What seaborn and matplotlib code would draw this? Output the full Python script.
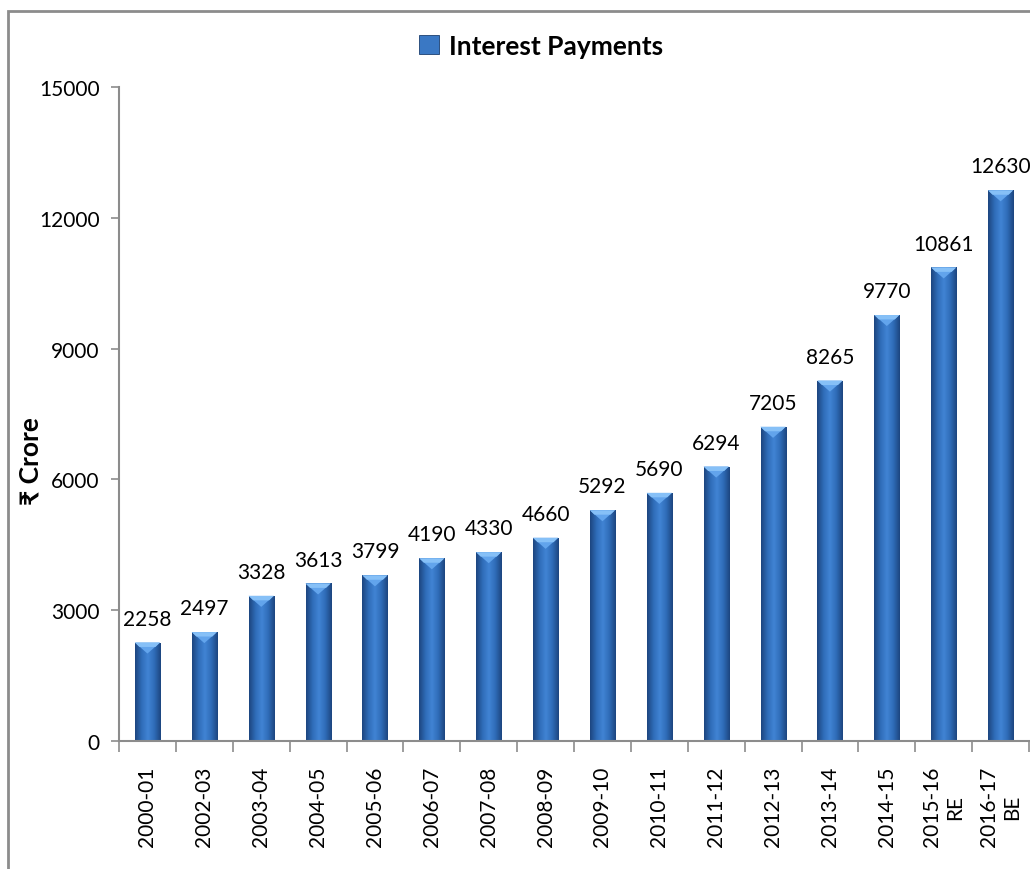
import numpy as np
import pandas as pd
import matplotlib
matplotlib.use("Agg")
import matplotlib.pyplot as plt
import seaborn as sns
from matplotlib.colors import LinearSegmentedColormap
from matplotlib.patches import Polygon, Rectangle

# Interest payments by year (₹ crore)
years = ["2000-01", "2002-03", "2003-04", "2004-05", "2005-06", "2006-07",
         "2007-08", "2008-09", "2009-10", "2010-11", "2011-12", "2012-13",
         "2013-14", "2014-15", "2015-16\nRE", "2016-17\nBE"]
payments = [2258, 2497, 3328, 3613, 3799, 4190, 4330, 4660, 5292, 5690,
            6294, 7205, 8265, 9770, 10861, 12630]
series_name = "Interest Payments"
y_ticks = [0, 3000, 6000, 9000, 12000, 15000]

sns.set_theme(style="white")
plt.rcParams["font.family"] = ["Lato", "DejaVu Sans"]
plt.rcParams["text.color"] = "black"
plt.rcParams["xtick.color"] = "black"
plt.rcParams["ytick.color"] = "black"
plt.rcParams["axes.labelcolor"] = "black"

df = pd.DataFrame({"year": years, "value": payments})

fig = plt.figure(figsize=(10.3, 8.7), dpi=100)
ax = fig.add_axes([119 / 1030, 1 - 742 / 870, 910 / 1030, 654 / 870])

sns.barplot(data=df, x="year", y="value", color="#3a78c4", width=0.44,
            ax=ax, label=series_name, saturation=1)

ax.set_ylim(0, 15000)
ax.set_xlim(-0.5, len(years) - 0.5)

# shaded body + top bevel on each bar
grad = LinearSegmentedColormap.from_list(
    "barshade", ["#1d4680", "#2f6cb8", "#4184d4", "#2f6cb8", "#1d4680"])
xs = np.linspace(0, 1, 64)
gradient = np.vstack([xs, xs])
px_to_data = 15000 / 654
for patch in list(ax.patches):
    x0, w = patch.get_x(), patch.get_width()
    h = patch.get_height()
    im = ax.imshow(gradient, cmap=grad, aspect="auto",
                   extent=(x0, x0 + w, 0, h), zorder=2.5)
    im.set_clip_path(patch)
    d = 11 * px_to_data
    ax.add_patch(Polygon([(x0, h), (x0 + w, h), (x0 + w / 2, h - d)],
                         closed=True, facecolor="#62a4ec", edgecolor="none",
                         zorder=2.6))
    ax.add_patch(Polygon([(x0, h), (x0 + w, h), (x0 + w * 0.82, h - d * 0.4),
                          (x0 + w * 0.18, h - d * 0.4)],
                         closed=True, facecolor="#86c0f7", edgecolor="none",
                         zorder=2.7))
    patch.set_edgecolor("#1b3f70")
    patch.set_linewidth(0.6)

ax.set_xlim(-0.5, len(years) - 0.5)
ax.set_ylim(0, 15000)

ax.bar_label(ax.containers[0], labels=[str(v) for v in payments],
             padding=10, fontsize=15, color="black")

# axes styling
for s in ["top", "right"]:
    ax.spines[s].set_visible(False)
for s in ["left", "bottom"]:
    ax.spines[s].set_color("#8c8c8c")
    ax.spines[s].set_linewidth(1.5)

ax.set_yticks(y_ticks)
ax.set_yticklabels([str(t) for t in y_ticks], fontsize=15)
ax.tick_params(axis="y", which="major", left=True, length=6, width=1.2,
               color="#8c8c8c", labelcolor="black", pad=8)

ax.set_xticks(range(len(years)))
ax.set_xticklabels(years, rotation=90, fontsize=15, ha="center",
                   va="top", multialignment="center")
ax.tick_params(axis="x", which="major", length=0, pad=18, labelcolor="black")
ax.set_xticks(np.arange(-0.5, len(years)), minor=True)
ax.tick_params(axis="x", which="minor", bottom=True, length=8, width=1.2,
               color="#8c8c8c")

ax.set_xlabel("")
ax.set_ylabel("₹ Crore", fontsize=19, fontweight="bold", color="black")
ax.yaxis.set_label_coords(-0.084, 0.43)

if ax.get_legend() is not None:
    ax.get_legend().remove()
handles, labels = ax.get_legend_handles_labels()
fig.legend(handles[:1], labels[:1], loc="center",
           bbox_to_anchor=(541 / 1030, 1 - 47 / 870), frameon=False,
           prop={"size": 19, "weight": "bold"}, handlelength=0.75,
           handleheight=0.75, handletextpad=0.4, labelcolor="black")

# outer chart frame
fig.patches.append(Rectangle((8 / 1030, -0.2), 1.2, 1.2 - 12 / 870,
                             transform=fig.transFigure, fill=False,
                             edgecolor="#8c8c8c", linewidth=2))

fig.savefig("out.png", dpi=100)
